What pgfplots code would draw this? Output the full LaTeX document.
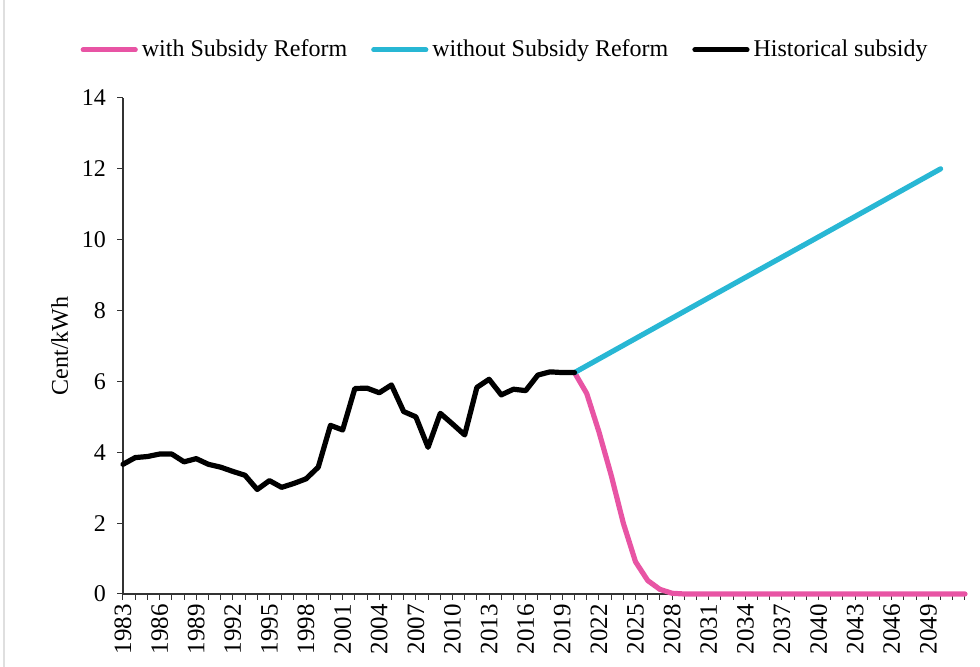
\documentclass[border=0pt]{standalone}
\usepackage{fontspec}
\setmainfont{Liberation Serif}
\usepackage{pgfplots}
\pgfplotsset{compat=1.18}
\definecolor{pinkR}{RGB}{232,84,164}
\definecolor{blueR}{RGB}{40,183,212}
\begin{document}
\begin{tikzpicture}
\path[use as bounding box] (-61.5pt,-36.5pt) rectangle (428.5pt,297pt);
\draw[gray!25, line width=0.8pt] (-59.5pt,-36.5pt) -- (-59.5pt,297pt);
\begin{axis}[
  at={(0pt,0pt)}, anchor=south west, scale only axis,
  width=421pt, height=248pt,
  xmin=1983, xmax=2052, ymin=0, ymax=14,
  clip=false,
  axis lines*=left,
  axis line style={black!80, line width=0.6pt},
  xtick={1983,1986,...,2049},
  minor xtick={1983,...,2052},
  ytick={0,2,...,14},
  tick align=outside,
  major tick length=3pt, minor tick length=3pt,
  tick style={black!80, line width=0.5pt},
  /pgf/number format/assume math mode=true,
  xticklabel style={rotate=90, anchor=east, font=\fontsize{12.5}{14}\selectfont,
    /pgf/number format/1000 sep={}, inner sep=2pt},
  yticklabel style={font=\fontsize{12}{14}\selectfont, xshift=-2pt},
  ylabel={Cent/kWh},
  ylabel style={at={(axis description cs:-0.075,0.5)}, anchor=center,
    font=\fontsize{12}{14}\selectfont},
  legend columns=3,
  legend style={at={(axis description cs:0.455,1.097)}, anchor=center, draw=none,
    font=\fontsize{12}{14}\selectfont, inner sep=0pt,
    /tikz/every even column/.append style={column sep=10pt},
    cells={anchor=west}},
  legend image code/.code={\draw[#1, line width=2.6pt, line cap=round] (0pt,0pt) -- (26pt,0pt);},
  every axis plot/.append style={line width=2.6pt, line join=round, line cap=round},
]
\addplot[pinkR] coordinates {
(2020,6.25) (2021,5.66) (2022,4.58) (2023,3.36) (2024,2.00) (2025,0.91)
(2026,0.38) (2027,0.13) (2028,0.02) (2029,0) (2035,0) (2040,0) (2045,0) (2052,0)};
\addlegendentry{with Subsidy Reform}
\addplot[blueR] coordinates {
(2020,6.25) (2030,8.17) (2040,10.08) (2050,12.0)};
\addlegendentry{without Subsidy Reform}
\addplot[black] table {
x y
1983 3.66
1984 3.85
1985 3.88
1986 3.95
1987 3.95
1988 3.73
1989 3.82
1990 3.66
1991 3.58
1992 3.46
1993 3.35
1994 2.95
1995 3.20
1996 3.01
1997 3.12
1998 3.25
1999 3.58
2000 4.76
2001 4.63
2002 5.80
2003 5.81
2004 5.68
2005 5.90
2006 5.15
2007 5.00
2008 4.14
2009 5.10
2010 4.80
2011 4.49
2012 5.83
2013 6.06
2014 5.62
2015 5.78
2016 5.74
2017 6.18
2018 6.27
2019 6.25
2020 6.25
};
\addlegendentry{Historical subsidy}
\end{axis}
\end{tikzpicture}
\end{document}
